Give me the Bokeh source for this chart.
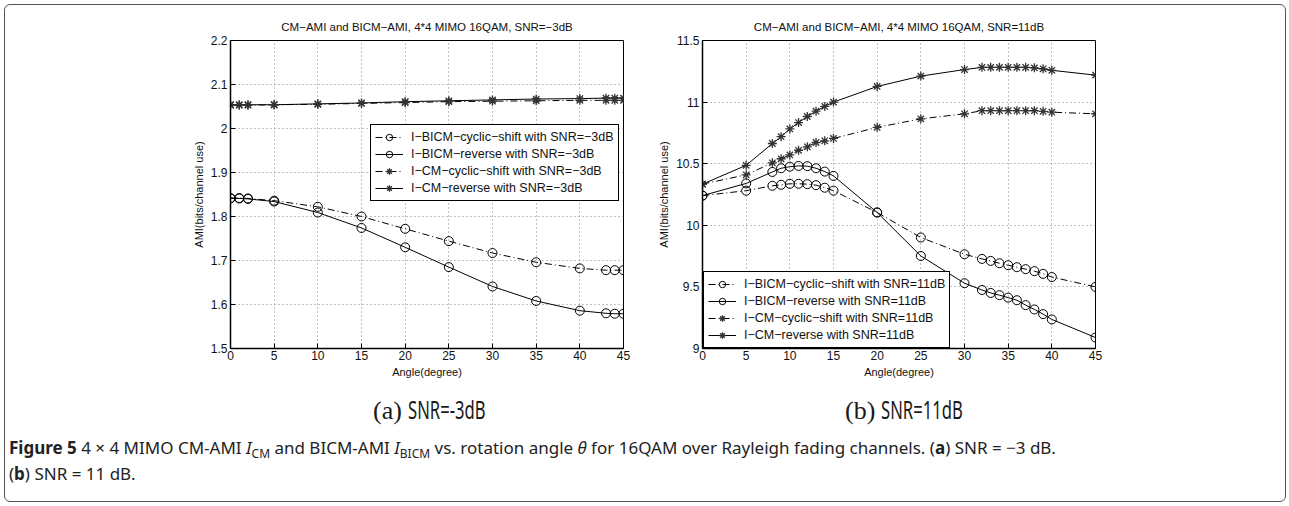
from bokeh.plotting import figure
from bokeh.layouts import column, row
from bokeh.models import (Div, Legend, LegendItem, FixedTicker,
                          CustomJSTickFormatter, Range1d, ColumnDataSource)
from bokeh.embed import file_html
from bokeh.resources import INLINE

# ---------------- data ----------------
angle_a = [0, 1, 2, 5, 10, 15, 20, 25, 30, 35, 40, 43, 44, 45]
bicm_cyclic_a = [1.842, 1.842, 1.841, 1.836, 1.822, 1.800, 1.772, 1.744, 1.717, 1.696, 1.682, 1.678, 1.678, 1.678]
bicm_reverse_a = [1.841, 1.841, 1.840, 1.834, 1.809, 1.774, 1.730, 1.685, 1.641, 1.608, 1.586, 1.580, 1.579, 1.579]
cm_cyclic_a = [2.053, 2.053, 2.053, 2.054, 2.055, 2.057, 2.059, 2.061, 2.062, 2.063, 2.064, 2.064, 2.064, 2.064]
cm_reverse_a = [2.054, 2.054, 2.054, 2.054, 2.056, 2.058, 2.061, 2.063, 2.065, 2.067, 2.068, 2.069, 2.069, 2.069]

angle_b = [0, 5, 8, 9, 10, 11, 12, 13, 14, 15, 20, 25, 30, 32, 33, 34, 35, 36, 37, 38, 39, 40, 45]
bicm_cyclic_b = [10.241, 10.281, 10.321, 10.329, 10.337, 10.337, 10.334, 10.326, 10.305, 10.281, 10.104, 9.901,
                 9.765, 9.727, 9.711, 9.692, 9.676, 9.660, 9.644, 9.628, 9.606, 9.580, 9.500]
bicm_reverse_b = [10.241, 10.340, 10.433, 10.463, 10.476, 10.482, 10.480, 10.463, 10.436, 10.401, 10.104, 9.751,
                  9.530, 9.475, 9.451, 9.433, 9.413, 9.392, 9.352, 9.317, 9.279, 9.236, 9.089]
cm_cyclic_b = [10.334, 10.410, 10.507, 10.540, 10.571, 10.609, 10.637, 10.672, 10.686, 10.705, 10.795, 10.864,
               10.905, 10.930, 10.930, 10.930, 10.930, 10.930, 10.930, 10.930, 10.925, 10.918, 10.905]
cm_reverse_b = [10.334, 10.487, 10.664, 10.719, 10.782, 10.834, 10.883, 10.926, 10.965, 11.000, 11.127, 11.211,
                11.264, 11.282, 11.282, 11.282, 11.282, 11.282, 11.282, 11.278, 11.270, 11.258, 11.219]

x_ticks = [0, 5, 10, 15, 20, 25, 30, 35, 40, 45]
y_ticks_a = [1.5, 1.6, 1.7, 1.8, 1.9, 2.0, 2.1, 2.2]
y_ticks_b = [9.0, 9.5, 10.0, 10.5, 11.0, 11.5]

title_a = "CM\u2212AMI and BICM\u2212AMI, 4*4 MIMO 16QAM, SNR=\u22123dB"
title_b = "CM\u2212AMI and BICM\u2212AMI, 4*4 MIMO 16QAM, SNR=11dB"
labels_a = ["I\u2212BICM\u2212cyclic\u2212shift with SNR=\u22123dB",
            "I\u2212BICM\u2212reverse with SNR=\u22123dB",
            "I\u2212CM\u2212cyclic\u2212shift with SNR=\u22123dB",
            "I\u2212CM\u2212reverse with SNR=\u22123dB"]
labels_b = ["I\u2212BICM\u2212cyclic\u2212shift with SNR=11dB",
            "I\u2212BICM\u2212reverse with SNR=11dB",
            "I\u2212CM\u2212cyclic\u2212shift with SNR=11dB",
            "I\u2212CM\u2212reverse with SNR=11dB"]

FONT = "Liberation Sans"
DASHDOT = "7 3 1 3"


def make_plot(title, x, series, labels, yticks, ylim, border_left, border_right, legend_loc):
    p = figure(frame_width=393, frame_height=308, min_border_left=border_left,
               min_border_right=border_right, min_border_top=40, min_border_bottom=42,
               x_range=Range1d(0, 45), y_range=Range1d(*ylim),
               output_backend="svg", toolbar_location=None, tools="",
               background_fill_color="white", border_fill_color=None)
    p.title.text = title
    p.title.text_font = FONT
    p.title.text_font_style = "normal"
    p.title.text_font_size = "11.5px"
    p.title.text_color = "#111"
    p.title.align = "center"
    p.title.standoff = 16
    p.outline_line_color = "black"
    p.outline_line_width = 1

    xt = FixedTicker(ticks=x_ticks)
    yt = FixedTicker(ticks=yticks)
    fmt = CustomJSTickFormatter(code="return String(Math.round(tick*10)/10);")
    p.xaxis.ticker = xt
    p.yaxis.ticker = yt
    p.yaxis.formatter = fmt
    for ax in (p.xaxis[0], p.yaxis[0]):
        ax.major_label_text_font = FONT
        ax.major_label_text_font_size = "12px"
        ax.major_label_text_color = "#111"
        ax.axis_label_text_font = FONT
        ax.axis_label_text_font_size = "11px"
        ax.axis_label_text_font_style = "normal"
        ax.axis_label_text_color = "#111"
        ax.major_tick_in = 5
        ax.major_tick_out = 0
        ax.minor_tick_line_color = None
        ax.axis_line_width = 1.5
        ax.axis_line_color = "black"
        ax.major_label_standoff = 3
        ax.axis_label_standoff = 3
    p.xaxis.axis_label = "Angle(degree)"
    p.yaxis.axis_label = "AMI(bits/channel use)"
    p.xaxis.major_label_standoff = 2
    p.xaxis.axis_label_standoff = 3

    p.xgrid.ticker = xt
    p.ygrid.ticker = yt
    for g in (p.xgrid[0], p.ygrid[0]):
        g.grid_line_color = "#808080"
        g.grid_line_dash = "1 3"
        g.grid_line_width = 1

    src = ColumnDataSource(dict(x=x, bc=series[0], br=series[1], cc=series[2], cr=series[3]))
    items = []
    specs = [("bc", DASHDOT, "circle"), ("br", "solid", "circle"),
             ("cc", DASHDOT, "asterisk"), ("cr", "solid", "asterisk")]
    for (col, dash, marker), lab in zip(specs, labels):
        ln = p.line("x", col, source=src, line_color="black", line_width=1, line_dash=dash)
        if marker == "circle":
            sc = p.scatter("x", col, source=src, marker="circle", size=9, fill_color=None,
                           line_color="black", line_width=1)
        else:
            sc = p.scatter("x", col, source=src, marker="asterisk", size=9,
                           line_color="#333", line_width=1.3)
        items.append(LegendItem(label=lab, renderers=[ln, sc]))
    leg = Legend(items=items, location=legend_loc, label_text_font=FONT,
                 label_text_font_size="12.5px", label_text_color="#111",
                 border_line_color="black", border_line_width=1, border_line_alpha=1,
                 background_fill_color="white", background_fill_alpha=1,
                 padding=4, spacing=1, margin=0, label_height=16, glyph_height=16,
                 glyph_width=28, label_standoff=8)
    p.add_layout(leg)
    return p


pa = make_plot(title_a, angle_a, [bicm_cyclic_a, bicm_reverse_a, cm_cyclic_a, cm_reverse_a],
               labels_a, y_ticks_a, (1.5, 2.2), 230, 27, (140, 147))
pb = make_plot(title_b, angle_b, [bicm_cyclic_b, bicm_reverse_b, cm_cyclic_b, cm_reverse_b],
               labels_b, y_ticks_b, (9.0, 11.5), 52, 195, (1, 0))

sub_css = "position:absolute;top:3px;font-size:26px;line-height:32px;color:#1a1a1a;white-space:nowrap;"
serif = "font-family:'Liberation Serif',serif;"
cond = ("display:inline-block;font-family:'Noto Sans',sans-serif;transform:scaleX(0.64);"
        "transform-origin:left center;margin-left:6px;")
cap_css = ("position:absolute;left:9px;font-family:'Noto Sans',sans-serif;font-size:17px;"
           "line-height:25px;color:#222;white-space:nowrap;")
html = (
    '<div style="position:relative;width:1289px;height:116px;">'
    f'<div style="{sub_css}left:373px;"><span style="{serif}">(a)</span><span style="{cond}">SNR=-3dB</span></div>'
    f'<div style="{sub_css}left:845px;"><span style="{serif}">(b)</span><span style="{cond}">SNR=11dB</span></div>'
    f'<div style="{cap_css}top:45px;"><b>Figure 5</b> 4 \u00d7 4 MIMO CM-AMI <i>I</i><sub style="font-size:12px">CM</sub> and BICM-AMI '
    '<i>I</i><sub style="font-size:12px">BICM</sub> vs. rotation angle <i>\u03b8</i> for 16QAM over Rayleigh fading channels. '
    '(<b>a</b>) SNR = \u22123 dB.</div>'
    f'<div style="{cap_css}top:71px;">(<b>b</b>) SNR = 11 dB.</div>'
    '</div>'
)
cap = Div(text=html, width=1289, height=116, margin=0)

layout = column(row(pa, pb, spacing=0), cap, spacing=0,
                styles={"outline": "1.5px solid #555", "outline-offset": "-5px",
                        "border-radius": "10px"})

open("out.html", "w").write(file_html(layout, INLINE))
